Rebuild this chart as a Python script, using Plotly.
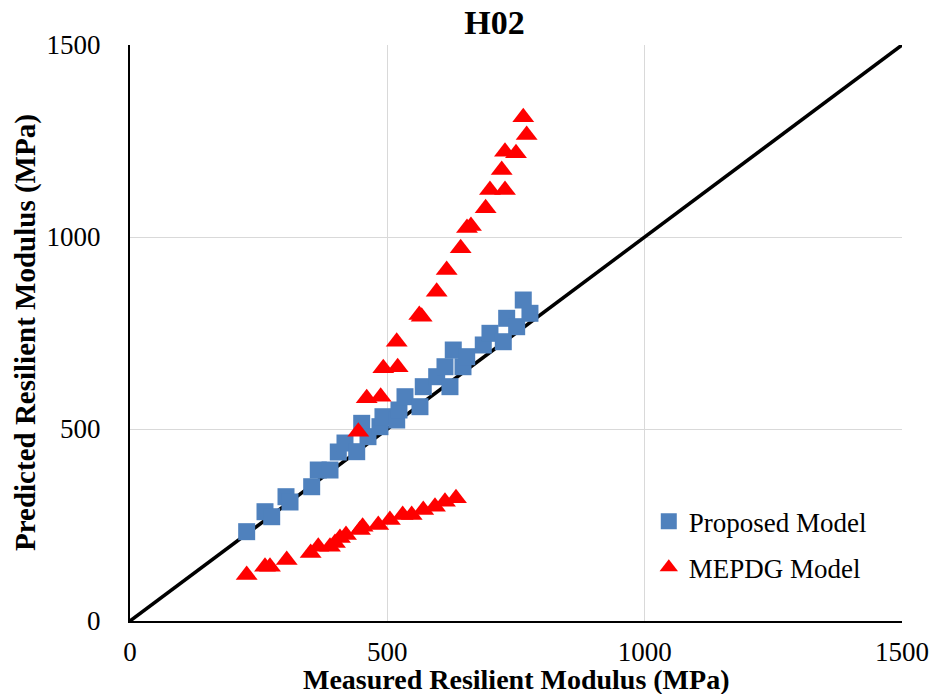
import plotly.graph_objects as go

# Proposed Model (blue squares)
prop_x = [226.7, 262.3, 275.3, 303.1, 310.9, 353.0, 365.8, 388.6, 404.7, 417.7,
          440.5, 450.2, 462.4, 485.7, 491.5, 518.2, 522.6, 534.3, 563.4, 569.8,
          595.9, 612.0, 621.7, 628.1, 647.0, 654.2, 686.4, 699.4, 725.3, 731.9,
          751.3, 764.1, 777.1]
prop_y = [232.6, 284.6, 271.6, 323.7, 309.9, 349.7, 393.2, 393.2, 440.1, 463.5,
          440.9, 514.8, 480.0, 506.0, 532.0, 523.4, 549.5, 584.1, 558.1, 610.2,
          636.2, 662.2, 610.2, 705.7, 662.2, 688.3, 718.8, 749.2, 727.3, 788.3,
          766.4, 835.9, 801.3]

# MEPDG Model (red triangles)
mepdg_x = [226.7, 262.3, 272.0, 304.5, 351.0, 365.8, 388.6, 398.3, 408.0, 419.7,
           446.9, 452.0, 482.4, 505.0, 529.8, 547.3, 569.8, 592.6, 612.0, 633.4,
           443.6, 459.9, 487.1, 492.1, 520.1, 518.2, 562.1, 566.7, 595.9, 615.3,
           642.5, 654.8, 662.5, 691.0, 699.4, 728.6, 722.2, 728.6, 750.0, 764.1,
           770.7]
mepdg_y = [119.8, 141.4, 141.4, 158.9, 177.0, 193.5, 193.5, 203.0, 216.0, 224.0,
           237.0, 245.6, 250.0, 263.0, 276.0, 276.0, 289.0, 297.7, 310.7, 319.5,
           493.0, 580.0, 584.0, 658.0, 660.7, 727.3, 796.9, 792.4, 857.6, 914.0,
           970.6, 1023.4, 1028.6, 1074.7, 1122.4, 1122.4, 1174.5, 1222.0, 1218.0, 1311.7,
           1265.6]

line_x = [0, 1500]
line_y = [0, 1500]
ticks = [0, 500, 1000, 1500]

FONT = "Liberation Serif, Times New Roman, serif"

fig = go.Figure()
fig.add_trace(go.Scatter(x=line_x, y=line_y, mode="lines",
                         line=dict(color="black", width=3.5), showlegend=False,
                         hoverinfo="skip"))
fig.add_trace(go.Scatter(x=prop_x, y=prop_y, mode="markers", name="Proposed Model",
                         legendgroup="a",
                         marker=dict(symbol="square", size=17, color="#4F81BD")))
fig.add_trace(go.Scatter(x=mepdg_x, y=mepdg_y, mode="markers", name="MEPDG Model",
                         legendgroup="b",
                         marker=dict(symbol="triangle-up", size=19, color="#FF0000")))

fig.update_layout(
    width=933, height=694,
    margin=dict(l=130, r=31, t=45, b=73, autoexpand=False),
    paper_bgcolor="white", plot_bgcolor="white",
    font=dict(family=FONT, size=27, color="black"),
    title=dict(text="<b>H02</b>", x=0.53, xanchor="center", y=0.968, yanchor="middle",
               font=dict(family=FONT, size=34, color="black")),
    showlegend=True,
    legend=dict(x=0.672, y=0.215, xanchor="left", yanchor="top",
                font=dict(family=FONT, size=27, color="black"),
                bgcolor="rgba(0,0,0,0)", itemwidth=30, tracegroupgap=8),
    annotations=[
        dict(text="<b>Measured Resilient Modulus (MPa)</b>", xref="paper", yref="paper",
             x=0.5, y=-0.101, xanchor="center", yanchor="middle", showarrow=False,
             font=dict(family=FONT, size=28, color="black")),
        dict(text="<b>Predicted Resilient Modulus (MPa)</b>", xref="paper", yref="paper",
             x=-0.136, y=0.5, xanchor="center", yanchor="middle", showarrow=False,
             textangle=-90, font=dict(family=FONT, size=29, color="black")),
    ],
)
fig.update_xaxes(range=[0, 1500], tickvals=ticks, showgrid=True, gridcolor="#D9D9D9",
                 gridwidth=1.3, showline=True, linecolor="black", linewidth=2,
                 zeroline=False, ticks="", ticklabelstandoff=6, automargin=False,
                 tickfont=dict(family=FONT, size=27, color="black"))
fig.update_yaxes(range=[0, 1500], tickvals=ticks, showgrid=True, gridcolor="#D9D9D9",
                 gridwidth=1.3, showline=True, linecolor="black", linewidth=2,
                 zeroline=False, ticks="", ticklabelstandoff=22, automargin=False,
                 tickfont=dict(family=FONT, size=27, color="black"))

fig.write_html("out.html")
